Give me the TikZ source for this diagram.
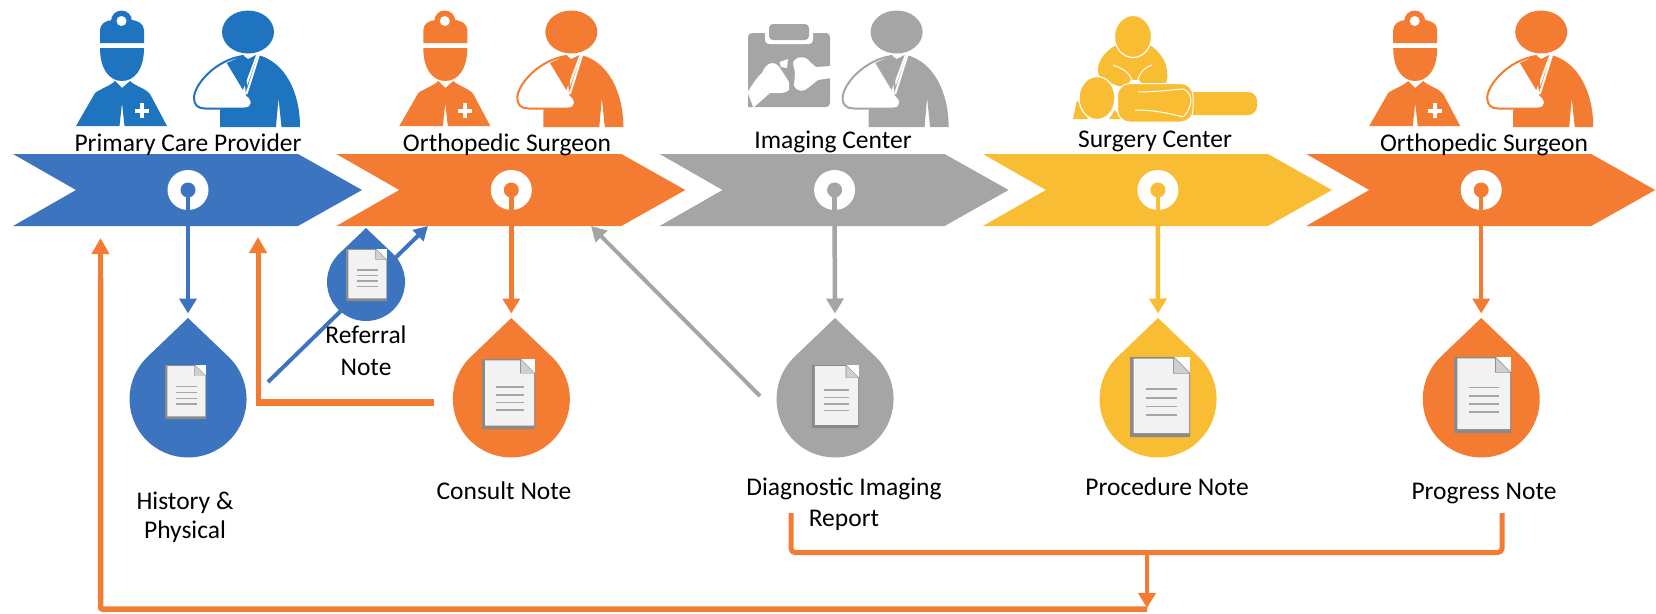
\documentclass[tikz,border=0pt]{standalone}
\usepackage{fontspec}
\setmainfont{Carlito}
\usetikzlibrary{arrows.meta}
\definecolor{c3d74c0}{RGB}{61,116,192}
\definecolor{c1f74bf}{RGB}{31,116,191}
\definecolor{cf37c32}{RGB}{243,124,50}
\definecolor{ca5a5a5}{RGB}{165,165,165}
\definecolor{cf9bd33}{RGB}{249,189,51}
\definecolor{c8a8a8a}{RGB}{138,138,138}
\definecolor{cf2f2f2}{RGB}{242,242,242}
\definecolor{cd0d0d0}{RGB}{208,208,208}
\definecolor{ca6a6a6}{RGB}{166,166,166}
\tikzset{
  steplabel/.style={font=\fontsize{25.5}{29}\selectfont,align=center,text=black},
  flowline/.style={line join=miter,line cap=butt,line width=4.5pt,
    -{Triangle[length=15pt,width=17pt]},shorten >=4.5pt},
  backline/.style={line join=miter,line cap=butt,line width=5pt,
    -{Triangle[length=16pt,width=17pt]}},
  carryline/.style={line join=round,line cap=butt,line width=5pt,rounded corners=4pt}
}
% x offset, colour, name
\newcommand{\stepchevron}[3]{%
  \begin{scope}[shift={(#1,0)}]
    \path[fill=#2] (13,154) -- (298,154) -- (362,190) -- (298,226) -- (13,226) -- (76,190) -- cycle;
    \path[fill=white] (188,190) ellipse (20.5 and 20);
    \path[fill=#2] (188,190) circle (7.5);
    \path[draw=#2,line width=4.5pt] (188,190) -- (188,226);
    \coordinate (#3) at (188,226);
  \end{scope}}
% x offset, colour
\newcommand{\doctoricon}[2]{%
  \begin{scope}[shift={(#1,0)}]
    \path[fill=#2] (121.5,21) circle (10.5);
    \path[fill=#2] (100,43) -- (100,30) .. controls (100,24) and (106,20) .. (113,20)
      -- (130,20) .. controls (138,20) and (144,24) .. (144,30) -- (144,43) -- cycle;
    \path[fill=white] (121.5,21) circle (5);
    \path[fill=#2] (100,48) -- (144,48) .. controls (144,70) and (134,81) .. (122,81)
      .. controls (110,81) and (100,70) .. (100,48) -- cycle;
    \path[fill=#2] (76,126) -- (95,93) .. controls (100,89) and (110,86) .. (115,81)
      -- (122,88) -- (130,81) .. controls (135,86) and (145,88) .. (150,94)
      -- (167,126) -- (124.5,126) -- (122,103) -- (119.5,126) -- cycle;
    \path[fill=white] (139.5,103) rectangle (144,118);
    \path[fill=white] (135,108.5) rectangle (148.5,113);
  \end{scope}}
\newcommand{\patienticon}[2]{%
  \begin{scope}[shift={(#1,0)}]
    \path[fill=#2] (248,32) ellipse (26 and 21.5);
    \path[fill=#2] (258,55) .. controls (285,62) and (300,92) .. (300,127) -- (281.5,127)
      -- (278.5,98) -- (276,127) -- (220,127) -- (220,110) -- (245,92) -- cycle;
    \path[fill=white,draw=#2,line width=2pt,line join=round] (243,56)
      .. controls (215,60) and (194,85) .. (194,98) .. controls (194,105) and (198,108.5) .. (205,108.5)
      -- (245,108.5) .. controls (253,108.5) and (254,100) .. (247,95) -- cycle;
    \path[fill=#2] (226.7,63) -- (243,55.5) -- (248,59) -- (256,55) -- (243,90) -- cycle;
    \path[draw=white,line width=2pt] (259.5,53) -- (246.5,94);
  \end{scope}}
% name, centre x, tip y, radius, colour
\newcommand{\notedrop}[5]{%
  \begin{scope}[shift={(#2,#3)},scale=#4/58.5]
    \path[fill=#5] (0,0) -- (-40.6,38.9) arc[start angle=226,end angle=-46,radius=58.5] -- cycle;
    \coordinate (#1) at (0,0);
  \end{scope}}
% left, top, width, height
\newcommand{\notepage}[4]{%
  \begin{scope}[shift={(#1,#2)},xscale=#3/60,yscale=#4/80]
    \path[fill=white] (43,0) rectangle (60,16);
    \path[fill=c8a8a8a] (0,0) -- (44,0) -- (60,16) -- (60,80) -- (0,80) -- cycle;
    \path[fill=cf2f2f2] (3.5,1.5) -- (43,1.5) -- (43,16.5) -- (59,16.5) -- (59,76) -- (3.5,76) -- cycle;
    \path[fill=cd0d0d0] (44,1) -- (59,16) -- (44,16) -- cycle;
    \path[draw=ca6a6a6,line width=1.5pt] (15.5,32) -- (47,32) (15.5,41) -- (47,41)
      (15.5,49.5) -- (47,49.5) (15.5,58) -- (47,58);
  \end{scope}}

\begin{document}
\begin{tikzpicture}[y=1pt,x=1pt,yscale=-1, inner sep=0pt, outer sep=0pt]
  \useasboundingbox (0,0) rectangle (1656,613);
  % chevrons
  \stepchevron{0}{c3d74c0}{ringA}
  \stepchevron{323.3}{cf37c32}{ringB}
  \stepchevron{646.6}{ca5a5a5}{ringC}
  \stepchevron{969.9}{cf9bd33}{ringD}
  \stepchevron{1293.2}{cf37c32}{ringE}
  % icons
  \doctoricon{0}{c1f74bf}
  \patienticon{0}{c1f74bf}
  \doctoricon{323.3}{cf37c32}
  \patienticon{323.3}{cf37c32}
  \patienticon{648.6}{ca5a5a5}
  \doctoricon{1293.2}{cf37c32}
  \patienticon{1293.2}{cf37c32}
  % x-ray
  \path[fill=ca5a5a5,rounded corners=4pt] (748,33) rectangle (830,107);
  \path[fill=white,rounded corners=4pt] (765,29) rectangle (813,44);
  \path[fill=ca5a5a5,rounded corners=4pt] (769,24) rectangle (809,40);
  \path[fill=white] (747,93) .. controls (752,85) and (757,77) .. (762,73)
    .. controls (766,62) and (775,60) .. (780,68) -- (789,82) -- (789,90)
    .. controls (786,94) and (776,93) .. (770,93) -- (753,108) -- (747,108) -- cycle;
  \path[fill=ca5a5a5] (748,94) -- (753,107) -- (748,107) -- cycle;
  \path[fill=white] (793,63) .. controls (795,56) and (806,55) .. (810,62) -- (816,67)
    -- (831,66) -- (831,78) -- (818,80) -- (808,88) .. controls (804,92) and (797,92) .. (794,86)
    -- (795,73) -- cycle;
  \path[fill=white] (779.5,62) -- (788,59) -- (787,68) -- (781,67) -- cycle;
  % surgery
  \path[fill=cf9bd33] (1116,45) .. controls (1104,52) and (1097,62) .. (1098,72)
    .. controls (1098,78) and (1108,82) .. (1118,86) -- (1165,86)
    .. controls (1167,80) and (1168,76) .. (1167,72) .. controls (1167,62) and (1160,52) .. (1150,45) -- cycle;
  \path[draw=white,line width=1pt] (1113,65) .. controls (1120,68) and (1128,70) .. (1132,80)
    (1152,65) .. controls (1144,68) and (1140,72) .. (1138,80);
  \path[fill=white] (1131,80) -- (1139,80) -- (1142,84) -- (1128,84) -- cycle;
  \path[fill=cf9bd33,draw=white,line width=1.2pt] (1133,36.5) ellipse (18.5 and 21);
  \path[fill=cf9bd33] (1073,119) -- (1077,100) -- (1088,119) -- cycle;
  \path[fill=cf9bd33] (1109,119) -- (1115,110) -- (1121,119) -- cycle;
  \path[fill=cf9bd33,draw=white,line width=1.2pt] (1097,98) ellipse (18 and 21.5);
  \path[fill=cf9bd33,rounded corners=9pt] (1185,92) rectangle (1257,115);
  \path[fill=cf9bd33,rounded corners=12pt,draw=white,line width=1pt] (1117.5,83.5) rectangle (1193,122);
  \path[draw=white,line width=1pt] (1138,92) .. controls (1155,92) and (1170,90) .. (1183,89)
    .. controls (1192,92) and (1195,105) .. (1183,117) .. controls (1165,112) and (1150,110) .. (1135,110);
  % connectors
  \coordinate (referralOut) at (268,382);
  \coordinate (referralIn) at (428,226);
  \coordinate (consultOut) at (434,402);
  \coordinate (consultBend) at (258,402);
  \coordinate (pcpInA) at (258,237);
  \coordinate (imagingOut) at (760,396);
  \coordinate (orthoIn) at (591,226);
  \coordinate (reportOut) at (791,513);
  \coordinate (progressOut) at (1502,513);
  \coordinate (mergeTop) at (1147,552.5);
  \coordinate (mergeEnd) at (1147,609);
  \coordinate (pcpInB) at (100.5,238);
  \draw[c3d74c0,line width=4pt,-{Triangle[length=14pt,width=15pt]}] (referralOut) -- (referralIn);
  \draw[ca5a5a5,line width=4pt,-{Triangle[length=15pt,width=16pt]}] (imagingOut) -- (orthoIn);
  \draw[cf37c32,line width=7pt] (consultOut) -- (consultBend);
  \draw[cf37c32,backline] ([yshift=3.5pt]consultBend) -- (pcpInA);
  \draw[cf37c32,carryline] (reportOut) |- (mergeTop) -| (progressOut);
  \draw[cf37c32,line width=5.5pt,rounded corners=2pt] (mergeEnd) -| ([yshift=40pt]pcpInB);
  \draw[cf37c32,backline] ([yshift=42pt]pcpInB) -- (pcpInB);
  \draw[cf37c32,flowline,shorten >=1pt] (mergeTop) -- (mergeEnd);
  % notes
  \notedrop{dropA}{188}{318}{58.5}{c3d74c0}
  \notedrop{dropB}{511.3}{318}{58.5}{cf37c32}
  \notedrop{dropC}{835}{318}{58.5}{ca5a5a5}
  \notedrop{dropD}{1158}{318}{58.5}{cf9bd33}
  \notedrop{dropE}{1481.2}{318}{58.5}{cf37c32}
  \notedrop{dropF}{366}{228}{39}{c3d74c0}
  \notepage{165}{365}{41}{54}
  \notepage{482}{359}{53}{70}
  \notepage{812}{365}{47}{63}
  \notepage{1130}{357}{60}{80}
  \notepage{1454}{357}{57}{76}
  \notepage{346}{249}{41}{52}
  \draw[c3d74c0,flowline] (ringA) -- (dropA);
  \draw[cf37c32,flowline] (ringB) -- (dropB);
  \draw[ca5a5a5,flowline] (ringC) -- (dropC);
  \draw[cf9bd33,flowline] (ringD) -- (dropD);
  \draw[cf37c32,flowline] (ringE) -- (dropE);
  % labels
  \node[steplabel] (labelA) at (188,145) {Primary Care Provider};
  \node[steplabel] (labelB) at (507,145) {Orthopedic Surgeon};
  \node[steplabel] (labelC) at (833,142) {Imaging Center};
  \node[steplabel] (labelD) at (1155,141) {Surgery Center};
  \node[steplabel] (labelE) at (1484,145) {Orthopedic Surgeon};
  \node[steplabel] (noteA) at (185,517) {History \&\\Physical};
  \node[steplabel] (noteB) at (504,491) {Consult Note};
  \node[steplabel] (noteC) at (844,504) {Diagnostic Imaging\\[2pt]Report};
  \node[steplabel] (noteD) at (1167,487) {Procedure Note};
  \node[steplabel] (noteE) at (1484,494) {Progress Note};
  \node[steplabel] (noteF) at (366,351) {Referral\\[3pt]Note};
\end{tikzpicture}
\end{document}
